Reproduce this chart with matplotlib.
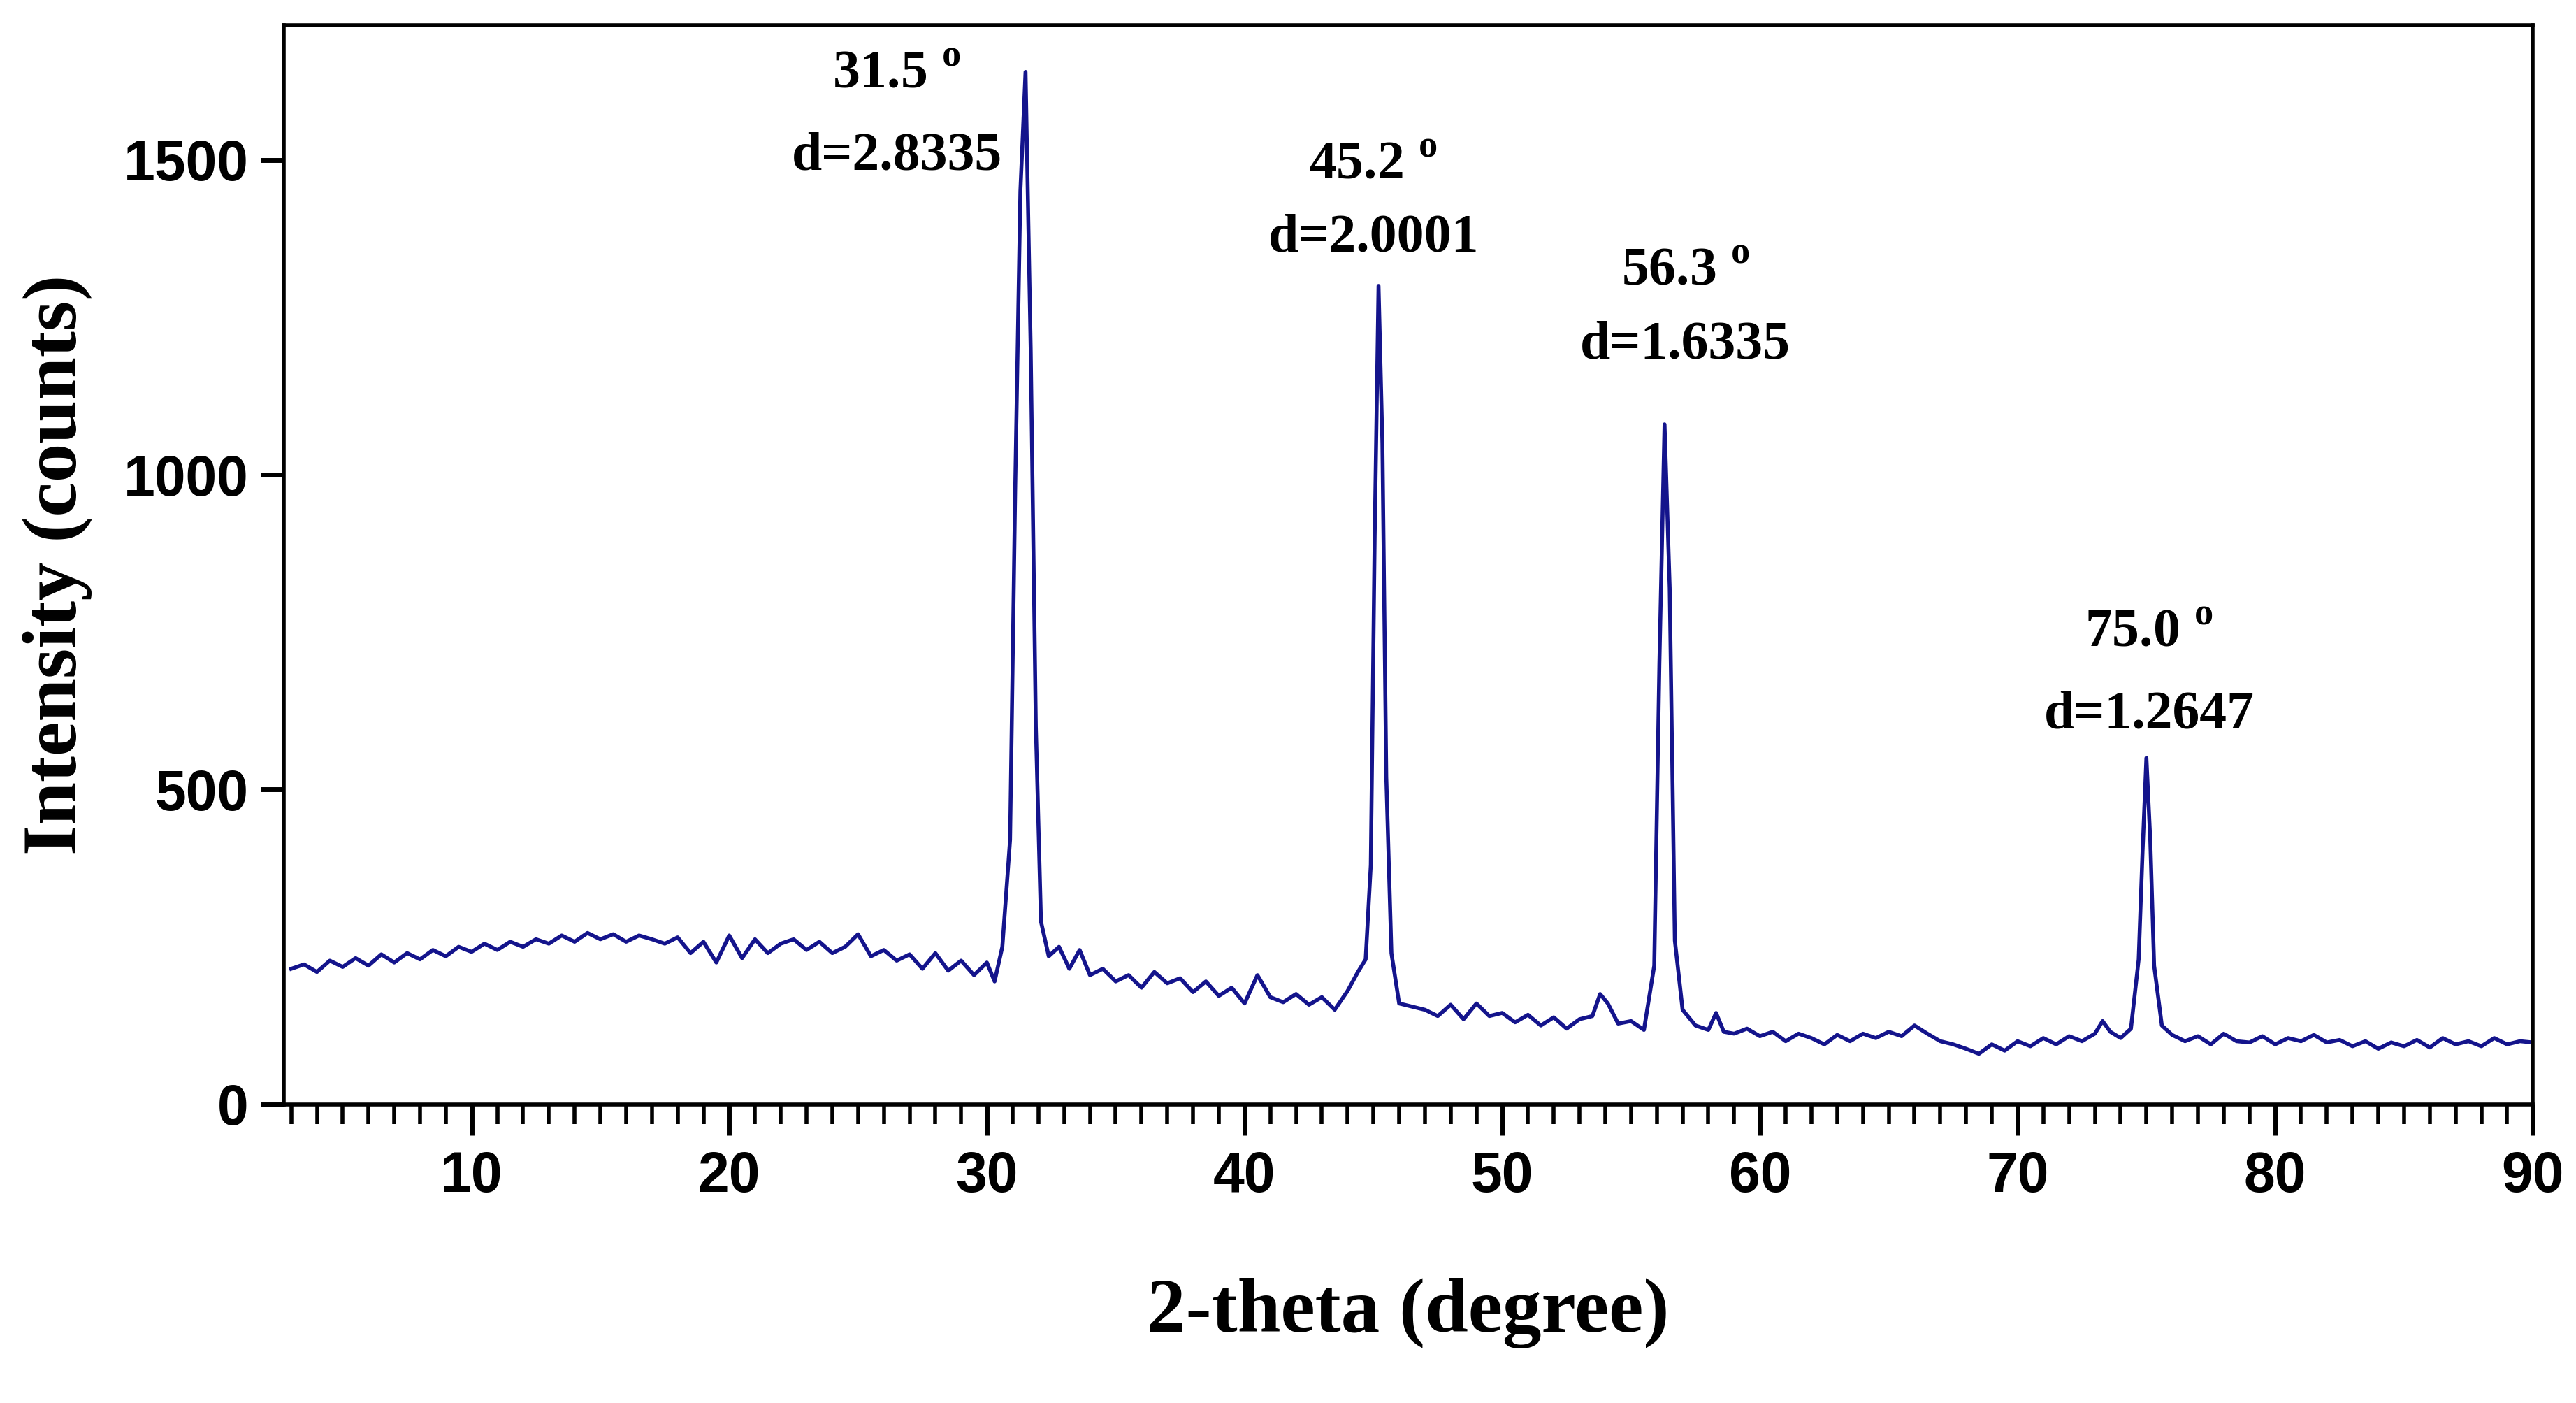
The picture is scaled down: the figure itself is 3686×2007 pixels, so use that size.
import matplotlib
matplotlib.use("Agg")
import matplotlib.pyplot as plt
from matplotlib.ticker import MultipleLocator

plt.rcParams['mathtext.fontset'] = 'custom'
plt.rcParams['mathtext.rm'] = 'Liberation Serif:bold'

two_theta = [3.0, 3.5, 4.0, 4.5, 5.0, 5.5, 6.0, 6.5, 7.0, 7.5, 8.0, 8.5, 9.0, 9.5, 10.0, 10.5, 11.0, 11.5, 12.0, 12.5,
             13.0, 13.5, 14.0, 14.5, 15.0, 15.5, 16.0, 16.5, 17.0, 17.5, 18.0, 18.5, 19.0, 19.5, 20.0, 20.5, 21.0, 21.5,
             22.0, 22.5, 23.0, 23.5, 24.0, 24.5, 25.0, 25.5, 26.0, 26.5, 27.0, 27.5, 28.0, 28.5, 29.0, 29.5, 30.0, 30.3,
             30.6, 30.9, 31.1, 31.3, 31.5, 31.7, 31.9, 32.1, 32.4, 32.8, 33.2, 33.6, 34.0, 34.5, 35.0, 35.5, 36.0, 36.5,
             37.0, 37.5, 38.0, 38.5, 39.0, 39.5, 40.0, 40.5, 41.0, 41.5, 42.0, 42.5, 43.0, 43.5, 44.0, 44.4, 44.7, 44.9,
             45.05, 45.2, 45.35, 45.5, 45.7, 46.0, 46.5, 47.0, 47.5, 48.0, 48.5, 49.0, 49.5, 50.0, 50.5, 51.0, 51.5, 52.0,
             52.5, 53.0, 53.5, 53.8, 54.1, 54.5, 55.0, 55.5, 55.9, 56.1, 56.3, 56.5, 56.7, 57.0, 57.5, 58.0, 58.3, 58.6,
             59.0, 59.5, 60.0, 60.5, 61.0, 61.5, 62.0, 62.5, 63.0, 63.5, 64.0, 64.5, 65.0, 65.5, 66.0, 66.5, 67.0, 67.5,
             68.0, 68.5, 69.0, 69.5, 70.0, 70.5, 71.0, 71.5, 72.0, 72.5, 73.0, 73.3, 73.6, 74.0, 74.4, 74.7, 74.85, 75.0,
             75.15, 75.3, 75.6, 76.0, 76.5, 77.0, 77.5, 78.0, 78.5, 79.0, 79.5, 80.0, 80.5, 81.0, 81.5, 82.0, 82.5, 83.0,
             83.5, 84.0, 84.5, 85.0, 85.5, 86.0, 86.5, 87.0, 87.5, 88.0, 88.5, 89.0, 89.5, 90.0]
intensity = [215, 222, 210, 228, 218, 232, 220, 238, 225, 240, 230, 245, 235, 250, 242, 255, 245, 258, 250, 262,
             255, 268, 258, 272, 262, 270, 258, 268, 262, 255, 265, 240, 258, 225, 268, 232, 262, 240, 255, 262,
             245, 258, 240, 250, 270, 235, 245, 228, 238, 215, 240, 212, 228, 205, 225, 195,
             250, 420, 980, 1450, 1640, 1200, 600, 290, 235, 250, 215, 245, 205, 215, 195, 205, 185, 210,
             192, 200, 178, 195, 172, 185, 160, 205, 170, 162, 175, 158, 170, 150, 180, 210, 230, 380,
             900, 1300, 1050, 520, 240, 160, 155, 150, 140, 158, 135, 160, 140, 145, 130, 142, 125, 138,
             120, 135, 140, 175, 160, 128, 132, 118, 220, 700, 1080, 820, 260, 150, 125, 118, 145, 115,
             112, 120, 108, 115, 100, 112, 105, 95, 110, 100, 112, 105, 115, 108, 125, 112, 100, 95,
             88, 80, 95, 85, 100, 92, 105, 95, 108, 100, 112, 132, 115, 105, 120, 230, 400, 550,
             420, 220, 125, 110, 100, 108, 95, 112, 100, 98, 108, 95, 105, 100, 110, 98, 102, 92,
             100, 88, 98, 92, 102, 90, 105, 95, 100, 92, 105, 95, 100, 98]

peak_pos = [31.5, 45.2, 56.3, 75.0]
peak_d = ["2.8335", "2.0001", "1.6335", "1.2647"]
label_x = [26.5, 45.0, 57.1, 75.1]
label_y1 = [1636, 1492, 1323, 749]
label_y2 = [1505, 1375, 1205, 618]

fig = plt.figure(figsize=(18.435, 10.035), dpi=200)
ax = fig.add_axes([0.110, 0.213, 0.873, 0.769])
ax.plot(two_theta, intensity, color='#14148c', lw=2.0)
ax.set_xlim(2.7, 90)
ax.set_ylim(0, 1714)
ax.xaxis.set_major_locator(MultipleLocator(10))
ax.xaxis.set_minor_locator(MultipleLocator(1))
ax.set_yticks([0, 500, 1000, 1500])
ax.tick_params(axis='x', which='major', direction='out', length=16, width=2.5, pad=8)
ax.tick_params(axis='x', which='minor', direction='out', length=10, width=2)
ax.tick_params(axis='y', which='major', direction='out', length=12, width=2.5, pad=6)
for s in ax.spines.values():
    s.set_linewidth(2)
for lab in ax.get_xticklabels() + ax.get_yticklabels():
    lab.set_fontfamily(['Liberation Sans Narrow', 'Liberation Sans', 'DejaVu Sans'])
    lab.set_fontweight('bold')
    lab.set_fontsize(29)
ax.set_xlabel('2-theta (degree)', fontsize=40, fontweight='bold', family='Liberation Serif', labelpad=38)
ax.set_ylabel('Intensity (counts)', fontsize=40, fontweight='bold', family='Liberation Serif', labelpad=16)

for p, d, lx, y1, y2 in zip(peak_pos, peak_d, label_x, label_y1, label_y2):
    ax.text(lx, y1, f"{p:.1f} $^{{\\mathrm{{o}}}}$", ha='center', va='center', fontsize=28,
            fontweight='bold', family='Liberation Serif')
    ax.text(lx, y2, f"d={d}", ha='center', va='center', fontsize=28,
            fontweight='bold', family='Liberation Serif')

fig.savefig('out.png', dpi=200)
